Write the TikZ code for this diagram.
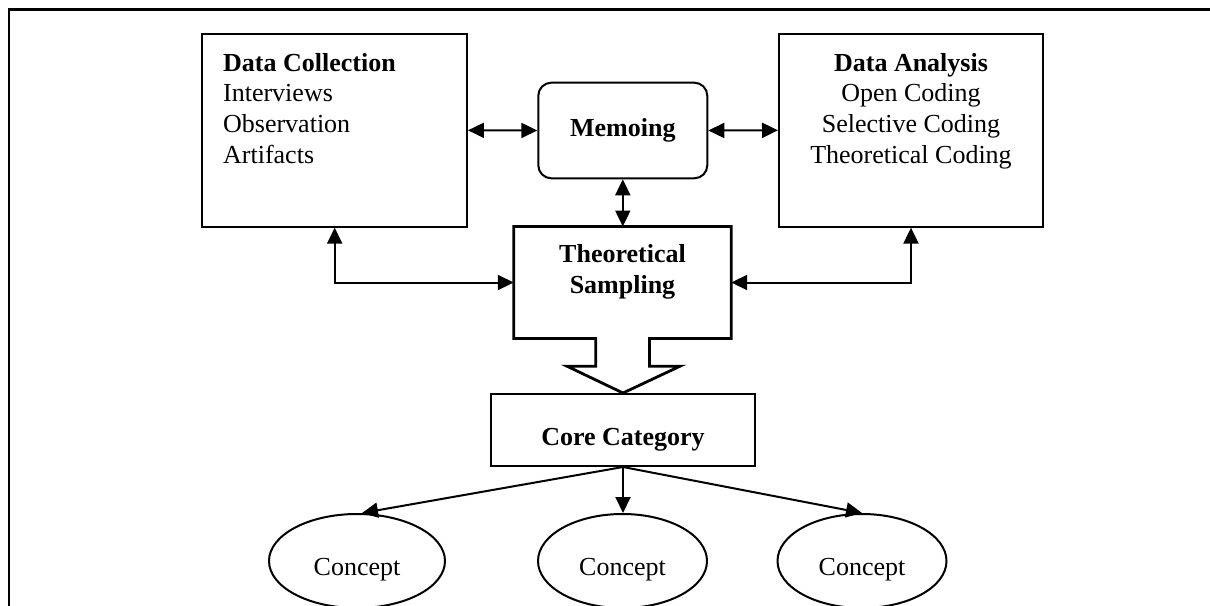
\documentclass[tikz,border=0pt]{standalone}
\usepackage{fontspec}
\setmainfont{Liberation Serif}
\usetikzlibrary{arrows.meta,calc,shapes.geometric}
\begin{document}
\begin{tikzpicture}[x=1pt,y=-1pt,
  every node/.style={font=\fontsize{26}{30.8}\selectfont},
  box/.style={draw, line width=2pt, rectangle, inner sep=0},
  ell/.style={draw, line width=2pt, ellipse, inner sep=0},
  arr/.style={line width=2pt, -{Triangle[length=16pt,width=15pt]}},
  darr/.style={line width=2pt, {Triangle[length=16pt,width=15pt]}-{Triangle[length=16pt,width=15pt]}},
  bodytext/.style={inner sep=0, font=\fontsize{26}{30.8}\selectfont},
  headtext/.style={inner sep=0, font=\bfseries\fontsize{26}{31}\selectfont},
]
\useasboundingbox (0,0) rectangle (1210,605);
\clip (0,0) rectangle (1210,605);
\draw[line width=2.2pt] (9.3,9.5) rectangle (1260,660);

% boxes
\node[box, minimum width=264.5pt, minimum height=192.7pt] (dc) at (334.7,130.3) {};
\node[box, minimum width=264pt, minimum height=192.7pt] (da) at (911,130.3) {};
\node[box, rounded corners=13pt, minimum width=169pt, minimum height=95.6pt] (memo) at (622.8,130.5) {};
\node[rectangle, draw=none, inner sep=0, minimum width=217pt, minimum height=111.6pt] (ts) at (622.5,282.5) {};
\node[box, minimum width=264pt, minimum height=72pt] (core) at (623,430) {};

% texts
\node[bodytext, anchor=north west, align=left] (dct) at ($(dc.north west)+(21.5,20)$) {\textbf{Data Collection}\\Interviews\\Observation\\Artifacts};
\node[bodytext, anchor=north, align=center] (dat) at ($(da.north)+(0,20)$) {\textbf{Data Analysis}\\Open Coding\\Selective Coding\\Theoretical Coding};
\node[headtext, anchor=base] (memot) at ($(memo.center)+(0,5.5)$) {Memoing};
\node[headtext, align=center] (tst) at ($(ts.center)+(0,-10.5)$) {Theoretical\\Sampling};
\node[headtext, anchor=base] (coret) at ($(core.center)+(0,15.3)$) {Core Category};

% block outline of theoretical sampling with arrow
\draw[line width=2.8pt, line join=miter]
  (ts.north west) -- (ts.north east) -- (ts.south east)
  -- ($(ts.south)+(27,0)$) -- ($(ts.south)+(27,27.7)$)
  -- ($(ts.south)+(57.5,27.7)$) -- (core.north)
  -- ($(ts.south)+(-55.5,27.7)$) -- ($(ts.south)+(-26.7,27.7)$)
  -- ($(ts.south)+(-26.7,0)$) -- (ts.south west) -- cycle;

% concepts
\node[ell, minimum width=176pt, minimum height=94pt] (c1) at (357,561) {};
\node[ell, minimum width=169pt, minimum height=94pt] (c2) at (622.5,561) {};
\node[ell, minimum width=169pt, minimum height=94pt] (c3) at (862,561) {};
\node[bodytext, anchor=base] (c1t) at ($(c1.center)+(0,14)$) {Concept};
\node[bodytext, anchor=base] (c2t) at ($(c2.center)+(0,14)$) {Concept};
\node[bodytext, anchor=base] (c3t) at ($(c3.center)+(0,14)$) {Concept};

% connectors
\draw[darr] (dc.east) -- (memo.west);
\draw[darr] (memo.east) -- (da.west);
\draw[darr] (memo.south) -- (memo.south |- ts.north);
\draw[darr] (dc.south) |- (ts.west);
\draw[darr] (da.south) |- (ts.east);
\draw[arr] (core.south) -- ($(c1.north)+(5,0)$);
\draw[arr] (core.south) -- (core.south |- c2.north);
\draw[arr] (core.south) -- (c3.north);
\end{tikzpicture}
\end{document}
